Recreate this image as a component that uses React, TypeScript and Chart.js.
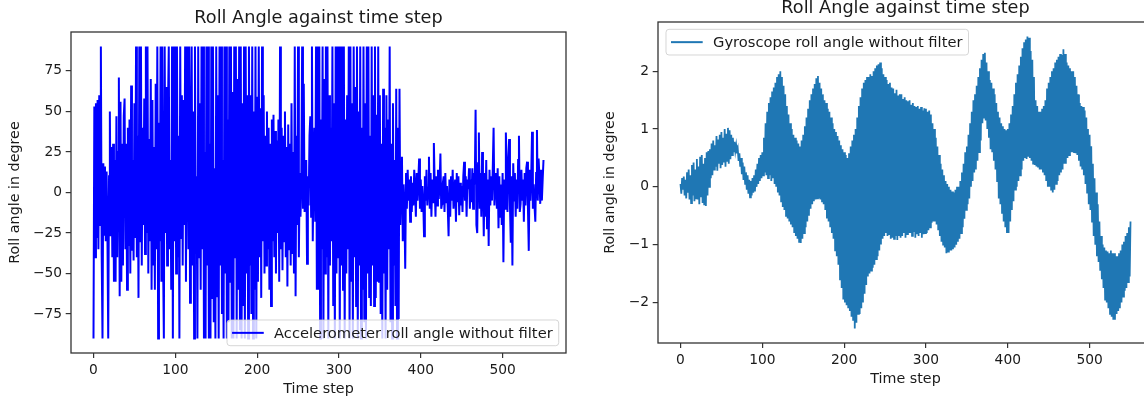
import React, { useEffect, useRef } from 'react';
import { Chart, registerables } from 'chart.js';

Chart.register(...registerables);

const FONT = "'DejaVu Sans', sans-serif";
const TEXT = '#1a1a1a';
const FRAME = '#333';

const timeSteps: number[] = Array.from({ length: 551 }, (_, i) => i);

const xTicks = [0, 100, 200, 300, 400, 500];
const accelYTicks = [-75, -50, -25, 0, 25, 50, 75];
const gyroYTicks = [-2, -1, 0, 1, 2];

const accelRoll = [
  -90, 53, -40, 55, -28, 57, -35, 60, -20, 90,
  -38, -90, 18, -26, 16, -30, 13, -25, -90, 10,
  50, -27, 28, -40, 30, -55, 20, -55, 47, -40,
  25, 71, -64, 56, -55, 30, -45, 47, 58, -35,
  30, -60, 40, -33, 45, -50, 66, -36, 20, -42,
  55, -28, 90, -40, 35, -65, 90, -30, 90, -45,
  40, -20, 58, -38, 90, -25, 90, -50, 33, -30,
  70, -60, 57, -45, 28, -60, 67, -35, 90, -90,
  43, -30, 90, -55, 90, -40, -90, 90, -25, 65,
  -45, 50, 90, -35, 20, -60, 90, -90, 90, -30,
  90, -50, 90, -40, 35, -90, 90, -28, 60, -45,
  57, -20, 90, -55, 40, 90, -35, 90, -68, 25,
  90, -45, 50, -90, 90, -30, 10, -90, 90, -40,
  55, -60, 90, -35, 90, -90, 25, -90, 90, -45,
  90, -90, 30, -90, 90, -65, 90, -80, 15, -90,
  90, -64, 60, -90, 90, -45, 90, -75, 20, -90,
  90, -50, 90, -90, 45, -80, 90, -55, 90, -90,
  62, -90, 90, -40, 90, -90, 70, -60, 90, -85,
  90, -90, 55, -70, 90, -90, 90, -50, 60, -90,
  90, -45, 60, -75, 90, -90, 50, -60, 90, -90,
  59, -55, 90, -40, 52, -65, 90, -30, 60, -50,
  35, -45, 50, -35, 40, -60, 30, -70, 45, -30,
  48, -40, 38, -50, 32, -25, 45, -55, 90, -35,
  40, -48, 35, -30, 50, -40, 28, -58, 42, -35,
  30, -45, 55, -38, 25, -50, 90, -64, 35, -20,
  90, -40, 12, -15, 8, 90, -10, 67, -12, 5,
  20, -44, 10, -8, 35, 47, -15, 90, -30, 15,
  40, -18, 90, -60, 90, -60, 90, -90, 45, -35,
  90, -90, 70, -50, 90, -40, 90, -90, 60, -45,
  40, -30, 90, -70, 55, -90, 90, -50, 90, -40,
  90, -90, 90, -45, 90, -60, 90, -90, 45, -50,
  60, -35, 90, -90, 90, -55, 55, -90, 90, -40,
  65, -70, 90, -90, 50, -45, 90, -90, 40, -60,
  90, -80, 55, -90, 90, -50, 90, -65, 35, -70,
  90, -45, 60, -70, 90, -65, 48, -55, 90, -55,
  60, -75, 30, -90, 64, -50, 40, -90, 60, -60,
  45, -35, 90, -80, 30, -90, 55, -45, 20, -70,
  64, -90, 40, -78, 64, -20, 10, 22, -30, 5,
  -10, -47, 12, -10, 14, -5, 8, -18, 10, -12,
  6, -8, 14, 2, -15, 12, -5, 8, 21, -10,
  8, -12, 4, -5, -27, 10, -5, 14, -8, 3,
  22, -10, 12, -15, 8, -6, 30.5, 5, -15, 10,
  -8, 14, -4, 6, 24, -10, -7, 6, 10, -12,
  12, -6, 4, -10, -27, 8, -15, 10, -5, 14,
  -10, 2, 8, -18, 12, -6, 10, -14, 6, -8,
  4, -12, 10, 19, -5, 10, -15, 8, 2, 15,
  -10, 8, -6, 15, -10, 12, 5, 51, -20, -25,
  18, 37, -10, 12, -15, 25, 8, -27, 12, -15,
  20, -22, 8, -33, 14, -8, 10, -5, 15, 40,
  -8, 7, 12, -10, 15, -22, 10, -15, 5, -20,
  12, -43, 8, -10, 37, 15, -12, 20, 33, -8,
  -31, 10, -45, 18, -5, 12, -15, 8, -10, 20,
  35, -12, -7, 14, -5, 8, -18, 12, -8, 15,
  19, -10, -36, 14, -5, 10, 37.5, -10, 5, -8,
  -18, 12, 38.5, -5, 21, 10, -7, 14, -5, 8,
  20,
];

const gyroRoll = [
  0.05, -0.12, 0.15, -0.05, 0.18, -0.15, 0.12, -0.2, 0.25, -0.1,
  0.3, -0.22, 0.2, -0.28, 0.38, -0.15, 0.42, -0.25, 0.3, -0.2,
  0.48, -0.22, 0.35, -0.3, 0.52, -0.18, 0.55, -0.28, 0.4, -0.32,
  0.5, -0.33, 0.6, -0.15, 0.62, 0.0, 0.65, 0.15, 0.75, 0.2,
  0.8, 0.3, 0.72, 0.35, 0.88, 0.28, 0.82, 0.4, 0.9, 0.32,
  0.95, 0.38, 0.85, 0.42, 1.0, 0.35, 0.92, 0.45, 1.02, 0.4,
  0.98, 0.48, 0.9, 0.55, 0.85, 0.6, 0.78, 0.62, 0.72, 0.58,
  0.65, 0.45, 0.58, 0.35, 0.5, 0.22, 0.42, 0.12, 0.35, 0.05,
  0.25, -0.05, 0.2, -0.12, 0.12, -0.18, 0.1, -0.15, 0.15, -0.1,
  0.2, -0.08, 0.3, 0.0, 0.4, 0.05, 0.5, 0.1, 0.55, 0.15,
  0.6, 0.2, 0.85, 0.25, 1.1, 0.2, 1.3, 0.15, 1.45, 0.2,
  1.55, 0.1, 1.65, 0.15, 1.72, 0.05, 1.8, 0.0, 1.9, -0.1,
  1.95, -0.15, 2.0, -0.25, 1.9, -0.35, 1.75, -0.4, 1.6, -0.5,
  1.4, -0.55, 1.25, -0.6, 1.1, -0.65, 1.0, -0.7, 0.9, -0.8,
  0.85, -0.85, 0.8, -0.9, 0.75, -0.95, 0.7, -0.97, 0.8, -0.9,
  0.9, -0.8, 1.05, -0.7, 1.2, -0.6, 1.35, -0.5, 1.5, -0.38,
  1.6, -0.3, 1.7, -0.25, 1.78, -0.22, 1.88, -0.2, 1.92, -0.2,
  1.8, -0.22, 1.7, -0.25, 1.6, -0.3, 1.5, -0.4, 1.45, -0.55,
  1.35, -0.6, 1.3, -0.7, 1.2, -0.8, 1.1, -0.9, 1.0, -1.1,
  0.95, -1.2, 0.88, -1.35, 0.8, -1.6, 0.72, -1.75, 0.65, -1.95,
  0.6, -2.0, 0.55, -2.05, 0.5, -2.1, 0.58, -2.15, 0.7, -2.25,
  0.8, -2.3, 0.9, -2.45, 1.0, -2.35, 1.2, -2.2, 1.4, -2.2,
  1.55, -2.1, 1.7, -2.0, 1.8, -1.85, 1.85, -1.7, 1.9, -1.55,
  1.9, -1.5, 1.95, -1.45, 1.92, -1.4, 2.0, -1.35, 2.05, -1.25,
  2.1, -1.2, 2.12, -1.1, 2.15, -1.0, 2.05, -0.9, 1.95, -0.85,
  1.9, -0.8, 1.85, -0.85, 1.78, -0.82, 1.8, -0.9, 1.72, -0.88,
  1.7, -0.9, 1.62, -0.85, 1.68, -0.92, 1.58, -0.85, 1.6, -0.88,
  1.6, -0.85, 1.52, -0.8, 1.55, -0.88, 1.5, -0.82, 1.48, -0.8,
  1.5, -0.8, 1.42, -0.85, 1.45, -0.78, 1.4, -0.88, 1.38, -0.82,
  1.4, -0.85, 1.35, -0.8, 1.38, -0.88, 1.32, -0.82, 1.36, -0.8,
  1.35, -0.8, 1.3, -0.75, 1.32, -0.7, 1.25, -0.62, 1.1, -0.6,
  1.0, -0.6, 0.85, -0.65, 0.7, -0.75, 0.55, -0.85, 0.4, -0.95,
  0.3, -1.0, 0.2, -1.05, 0.1, -1.15, 0.05, -1.12, 0.0, -1.1,
  -0.05, -1.1, -0.08, -1.08, -0.1, -1.05, -0.05, -1.0, 0.0, -0.95,
  0.0, -0.9, 0.1, -0.8, 0.25, -0.7, 0.4, -0.55, 0.6, -0.4,
  0.7, -0.3, 0.9, -0.2, 1.1, 0.0, 1.3, 0.1, 1.5, 0.25,
  1.6, 0.3, 1.75, 0.45, 1.9, 0.6, 2.05, 0.8, 2.2, 1.1,
  2.3, 1.2, 2.32, 1.15, 2.15, 1.0, 2.0, 0.85, 1.85, 0.65,
  1.8, 0.6, 1.7, 0.45, 1.6, 0.3, 1.45, 0.1, 1.3, -0.2,
  1.2, -0.3, 1.1, -0.45, 1.05, -0.6, 1.0, -0.7, 0.98, -0.8,
  1.0, -0.8, 1.1, -0.6, 1.25, -0.4, 1.4, -0.25, 1.6, -0.05,
  1.8, 0.0, 1.95, 0.1, 2.1, 0.2, 2.25, 0.3, 2.4, 0.45,
  2.5, 0.5, 2.55, 0.48, 2.6, 0.52, 2.58, 0.5, 2.35, 0.45,
  2.2, 0.4, 1.9, 0.38, 1.5, 0.35, 1.4, 0.35, 1.3, 0.3,
  1.3, 0.3, 1.35, 0.25, 1.4, 0.2, 1.5, 0.1, 1.7, 0.0,
  1.8, 0.0, 1.9, -0.05, 2.0, -0.1, 2.05, -0.05, 2.15, 0.05,
  2.2, 0.1, 2.25, 0.2, 2.3, 0.25, 2.28, 0.3, 2.38, 0.4,
  2.3, 0.4, 2.15, 0.5, 2.1, 0.55, 2.05, 0.6, 2.0, 0.6,
  2.0, 0.6, 1.9, 0.58, 1.75, 0.55, 1.6, 0.45, 1.45, 0.35,
  1.4, 0.3, 1.38, 0.2, 1.32, 0.05, 1.2, -0.1, 1.0, -0.3,
  0.9, -0.4, 0.7, -0.6, 0.4, -0.85, 0.15, -1.0, -0.1, -1.2,
  -0.3, -1.3, -0.6, -1.45, -0.85, -1.6, -1.0, -1.75, -1.05, -1.95,
  -1.1, -2.0, -1.12, -2.1, -1.15, -2.2, -1.1, -2.25, -1.15, -2.3,
  -1.15, -2.3, -1.2, -2.2, -1.2, -2.15, -1.15, -2.1, -1.1, -2.0,
  -1.0, -1.9, -0.95, -1.8, -0.85, -1.75, -0.8, -1.65, -0.7, -1.55,
  -0.6,
];

const fmt = (v: number) => (v < 0 ? '\u2212' + String(Math.abs(v)) : String(v));

const framePlugin = {
  id: 'frame',
  afterDatasetsDraw(chart: any) {
    const { ctx, chartArea: a } = chart;
    ctx.save();
    ctx.strokeStyle = FRAME;
    ctx.lineWidth = 1.3;
    ctx.strokeRect(a.left, a.top, a.right - a.left, a.bottom - a.top);
    ctx.restore();
  },
  afterDraw(chart: any, _args: any, opts: any) {
    const { ctx, chartArea: a } = chart;
    const text: string = opts.text;
    ctx.save();
    ctx.font = `14.7px ${FONT}`;
    const tw = ctx.measureText(text).width;
    const w = tw + 53;
    const h = 25.7;
    let x0: number, y0: number;
    if (opts.loc === 'lower right') {
      x0 = a.right - 7.3 - w;
      y0 = a.bottom - 7.3 - h;
    } else {
      x0 = a.left + 8;
      y0 = a.top + 7.3;
    }
    ctx.beginPath();
    if ((ctx as any).roundRect) (ctx as any).roundRect(x0, y0, w, h, 3);
    else ctx.rect(x0, y0, w, h);
    ctx.fillStyle = 'rgba(255,255,255,0.8)';
    ctx.fill();
    ctx.strokeStyle = 'rgba(204,204,204,0.8)';
    ctx.lineWidth = 1;
    ctx.stroke();
    ctx.beginPath();
    ctx.moveTo(x0 + 5, y0 + h / 2);
    ctx.lineTo(x0 + 36.7, y0 + h / 2);
    ctx.strokeStyle = opts.color;
    ctx.lineWidth = 2;
    ctx.stroke();
    ctx.fillStyle = TEXT;
    ctx.textAlign = 'left';
    ctx.textBaseline = 'alphabetic';
    ctx.fillText(text, x0 + 47, y0 + 17.7);
    ctx.restore();
  },
};

function makeConfig(p: {
  values: number[];
  color: string;
  label: string;
  lineWidth: number;
  yMin: number;
  yMax: number;
  yTicks: number[];
  yTitlePad: number;
  legendLoc: string;
}): any {
  const tickFont = { family: FONT, size: 13.8 };
  const labelFont = { family: FONT, size: 14.3 };
  return {
    type: 'line',
    data: {
      datasets: [
        {
          label: p.label,
          data: timeSteps.map((t, i) => ({ x: t, y: p.values[i] })),
          borderColor: p.color,
          borderWidth: p.lineWidth,
          pointRadius: 0,
          tension: 0,
          fill: false,
        },
      ],
    },
    options: {
      animation: false,
      responsive: false,
      maintainAspectRatio: false,
      devicePixelRatio: 1,
      events: [],
      layout: { padding: { left: 0, right: 24, top: 0, bottom: 0 } },
      plugins: {
        legend: { display: false },
        tooltip: { enabled: false },
        title: {
          display: true,
          text: 'Roll Angle against time step',
          fullSize: false,
          color: TEXT,
          font: { family: FONT, size: 17.7, weight: 'normal' },
          padding: { top: 7.3, bottom: 3.46 },
        },
        frame: { text: p.label, color: p.color, loc: p.legendLoc },
      },
      scales: {
        x: {
          type: 'linear',
          min: -27.5,
          max: 577.5,
          afterBuildTicks: (s: any) => {
            s.ticks = xTicks.map((v) => ({ value: v }));
          },
          afterFit: (s: any) => {
            s.height = 47;
            s.paddingLeft = 0;
            s.paddingRight = 0;
            s.paddingTop = 0;
            s.paddingBottom = 0;
          },
          border: { display: false },
          grid: {
            drawOnChartArea: false,
            drawTicks: true,
            tickLength: 5,
            color: FRAME,
            lineWidth: 1.2,
          },
          ticks: {
            color: TEXT,
            font: tickFont,
            padding: 4.6,
            maxRotation: 0,
            autoSkip: false,
            callback: (v: number) => fmt(v),
          },
          title: {
            display: true,
            text: 'Time step',
            color: TEXT,
            font: labelFont,
            padding: { top: 0, bottom: 2.5 },
          },
        },
        y: {
          type: 'linear',
          min: p.yMin,
          max: p.yMax,
          afterBuildTicks: (s: any) => {
            s.ticks = p.yTicks.map((v) => ({ value: v }));
          },
          afterFit: (s: any) => {
            s.width = 71;
            s.paddingLeft = 0;
            s.paddingRight = 0;
            s.paddingTop = 0;
            s.paddingBottom = 0;
          },
          border: { display: false },
          grid: {
            drawOnChartArea: false,
            drawTicks: true,
            tickLength: 5.3,
            color: FRAME,
            lineWidth: 1.2,
          },
          ticks: {
            color: TEXT,
            font: tickFont,
            padding: 3.7,
            autoSkip: false,
            callback: (v: number) => fmt(v),
          },
          title: {
            display: true,
            text: 'Roll angle in degree',
            color: TEXT,
            font: labelFont,
            padding: { top: p.yTitlePad, bottom: 0 },
          },
        },
      },
    },
    plugins: [framePlugin],
  };
}

function ChartCanvas(props: { config: any; left: number; top: number }) {
  const ref = useRef<HTMLCanvasElement | null>(null);
  useEffect(() => {
    if (!ref.current) return;
    const chart = new Chart(ref.current, props.config);
    return () => chart.destroy();
  }, []);
  return (
    <canvas
      ref={ref}
      width={590}
      height={400}
      style={{ position: 'absolute', left: props.left, top: props.top, width: 590, height: 400 }}
    />
  );
}

export default function App() {
  const leftCfg = makeConfig({
    values: accelRoll,
    color: '#0000ff',
    label: 'Accelerometer roll angle without filter',
    lineWidth: 2,
    yMin: -99,
    yMax: 99,
    yTicks: accelYTicks,
    yTitlePad: 6.5,
    legendLoc: 'lower right',
  });
  const rightCfg = makeConfig({
    values: gyroRoll,
    color: '#1f77b4',
    label: 'Gyroscope roll angle without filter',
    lineWidth: 1.8,
    yMin: -2.7025,
    yMax: 2.8525,
    yTicks: gyroYTicks,
    yTitlePad: 15.2,
    legendLoc: 'upper left',
  });
  return (
    <div
      style={{
        position: 'fixed',
        left: 0,
        top: 0,
        width: 1144,
        height: 400,
        overflow: 'hidden',
        background: '#ffffff',
      }}
    >
      <ChartCanvas config={leftCfg} left={0} top={0} />
      <ChartCanvas config={rightCfg} left={587} top={-10} />
    </div>
  );
}
